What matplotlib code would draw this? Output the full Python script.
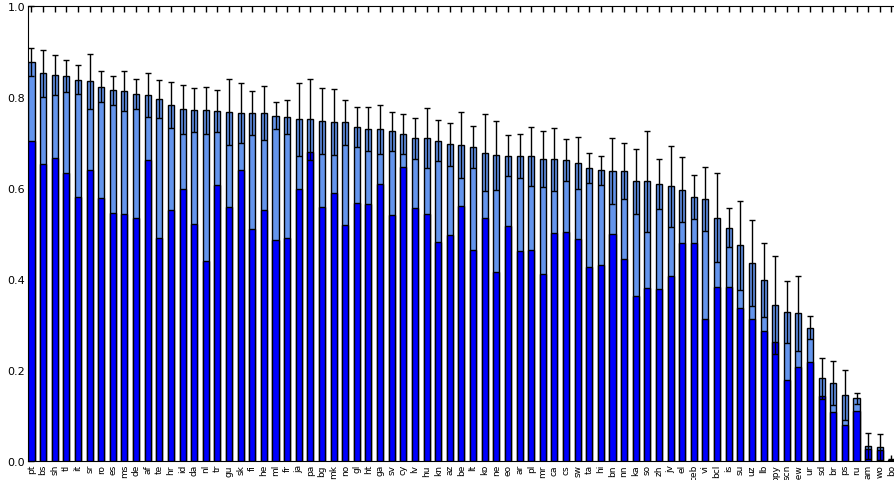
import matplotlib
matplotlib.use('Agg')
import matplotlib.pyplot as plt
import numpy as np

langs = ['pt', 'bs', 'sh', 'tl', 'it', 'sr', 'ro', 'es', 'ms', 'de', 'af', 'te', 'hr',
         'id', 'da', 'nl', 'tr', 'gu', 'sk', 'fi', 'he', 'ml', 'fr', 'ja', 'pa', 'bg',
         'mk', 'no', 'gl', 'ht', 'ga', 'sv', 'cy', 'lv', 'hu', 'kn', 'az', 'be', 'lt',
         'ko', 'ne', 'eo', 'ar', 'pl', 'mr', 'ca', 'cs', 'sw', 'ta', 'hi', 'bn', 'nn',
         'ka', 'so', 'zh', 'jv', 'el', 'ceb', 'vi', 'bcl', 'is', 'su', 'uz', 'lb',
         'bpy', 'scn', 'new', 'ur', 'sd', 'br', 'ps', 'ru', 'am', 'wo', 'bo']

# total score (light bar)
total = [0.877, 0.853, 0.850, 0.847, 0.839, 0.835, 0.823, 0.815, 0.813, 0.807, 0.805,
         0.796, 0.783, 0.774, 0.772, 0.771, 0.770, 0.768, 0.766, 0.765, 0.765, 0.760,
         0.756, 0.752, 0.752, 0.748, 0.746, 0.745, 0.734, 0.730, 0.730, 0.725, 0.720,
         0.710, 0.710, 0.705, 0.697, 0.695, 0.691, 0.678, 0.673, 0.672, 0.671, 0.670,
         0.664, 0.664, 0.662, 0.655, 0.645, 0.640, 0.638, 0.638, 0.615, 0.615, 0.609,
         0.604, 0.597, 0.581, 0.576, 0.535, 0.513, 0.475, 0.436, 0.399, 0.344, 0.328,
         0.325, 0.294, 0.182, 0.172, 0.145, 0.139, 0.033, 0.031, 0.003]

# std of total
err = [0.031, 0.052, 0.044, 0.035, 0.032, 0.060, 0.034, 0.031, 0.044, 0.033, 0.049,
       0.041, 0.050, 0.054, 0.049, 0.052, 0.047, 0.073, 0.066, 0.048, 0.059, 0.030,
       0.037, 0.080, 0.089, 0.073, 0.073, 0.049, 0.044, 0.048, 0.054, 0.043, 0.044,
       0.045, 0.066, 0.045, 0.047, 0.073, 0.047, 0.085, 0.076, 0.046, 0.048, 0.064,
       0.062, 0.069, 0.047, 0.057, 0.033, 0.032, 0.073, 0.061, 0.071, 0.112, 0.055,
       0.090, 0.071, 0.049, 0.070, 0.098, 0.043, 0.098, 0.095, 0.081, 0.108, 0.068,
       0.083, 0.025, 0.046, 0.048, 0.055, 0.012, 0.029, 0.028, 0.003]

# lower part (dark bar)
dark = [0.705, 0.653, 0.667, 0.634, 0.581, 0.641, 0.579, 0.545, 0.544, 0.535, 0.662,
        0.490, 0.553, 0.599, 0.522, 0.440, 0.607, 0.558, 0.640, 0.510, 0.552, 0.486,
        0.490, 0.598, 0.679, 0.560, 0.589, 0.519, 0.567, 0.566, 0.609, 0.541, 0.646,
        0.557, 0.544, 0.481, 0.497, 0.562, 0.464, 0.534, 0.415, 0.518, 0.462, 0.464,
        0.412, 0.501, 0.505, 0.488, 0.428, 0.431, 0.499, 0.444, 0.363, 0.380, 0.379,
        0.407, 0.479, 0.479, 0.313, 0.383, 0.382, 0.337, 0.313, 0.286, 0.263, 0.178,
        0.207, 0.218, 0.143, 0.109, 0.079, 0.110, 0.026, 0.025, 0.001]

x = np.arange(len(langs))
w = 0.52

fig = plt.figure(figsize=(8.94, 4.81), dpi=100)
ax = fig.add_axes([28/894., 18.7/481., 871.5/894., 455/481.])

ax.bar(x, total, w, color='cornflowerblue', edgecolor='k', linewidth=1, zorder=2)
ax.bar(x, dark, w, color='blue', edgecolor='k', linewidth=1, zorder=3)
ax.errorbar(x, total, yerr=err, fmt='none', ecolor='k', elinewidth=1, capsize=2,
            capthick=1, zorder=4)

ax.set_xlim(-0.3, 74.7)
ax.set_ylim(0, 1.0)
ax.set_xticks(x)
ax.set_xticklabels(langs, rotation=90, fontsize=6.5)
ax.set_yticks([0, 0.2, 0.4, 0.6, 0.8, 1.0])
ax.set_yticklabels(['0.0', '0.2', '0.4', '0.6', '0.8', '1.0'], fontsize=8)
ax.tick_params(axis='both', direction='in', top=True, right=False, length=4, width=1)
ax.tick_params(axis='x', pad=2)
ax.tick_params(axis='y', pad=2)
ax.spines['right'].set_visible(False)

plt.savefig('out.png', dpi=100)
